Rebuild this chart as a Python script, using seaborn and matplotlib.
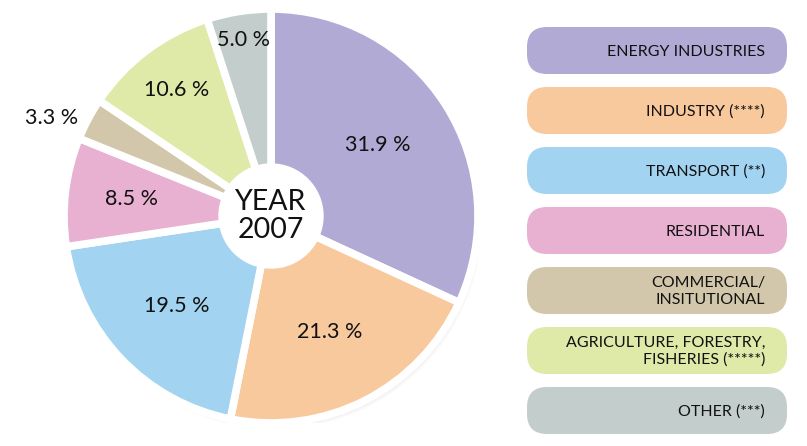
import matplotlib.pyplot as plt
import numpy as np
import seaborn as sns
from matplotlib.patches import Circle, FancyBboxPatch

sns.set_theme(style="white")
plt.rcParams['font.family'] = ['Lato', 'DejaVu Sans']

# Data
categories = ["ENERGY INDUSTRIES", "INDUSTRY (****)", "TRANSPORT (**)",
              "RESIDENTIAL", "COMMERCIAL/\nINSITUTIONAL",
              "AGRICULTURE, FORESTRY,\nFISHERIES (*****)", "OTHER (***)"]
shares = [31.9, 21.3, 19.5, 8.5, 3.3, 10.6, 5.0]
colors = ["#b1aad5", "#f8c99c", "#a2d3f0", "#e8b1d2", "#d2c7ab",
          "#dfe9a8", "#c3cdcc"]
label_radius = [0.62, 0.63, 0.63, 0.68, 1.16, 0.76, 0.86]
label_shift = [1, 0, 0, 0, 4, 0, 0]  # degrees
center_text = "YEAR\n2007"

W, H = 807, 446
fig = plt.figure(figsize=(W / 100, H / 100), dpi=100)
fig.patch.set_facecolor("white")

# Pie axes (pixel layout)
cx, cy, r = 271, 216, 207
ax = fig.add_axes([(cx - r) / W, (H - cy - r) / H, 2 * r / W, 2 * r / H])
# soft shadow
for k, a in [(6, 0.05), (4, 0.07), (2, 0.09)]:
    ax.add_patch(Circle((k / r * 0.6, -k / r), 1.0, color="#888888",
                        alpha=a, lw=0, zorder=0))
wedges, _ = ax.pie(shares, colors=colors, startangle=90, counterclock=False,
                   radius=1.0,
                   wedgeprops={"edgecolor": "white", "linewidth": 5.5})
for w in wedges:
    w.set_zorder(1)
ax.add_patch(Circle((0, 0), 52 / r, color="white", zorder=3))
ax.text(0, 0, center_text, ha="center", va="center", fontsize=20.5,
        linespacing=1.1, color="#111111", zorder=4)

for w, v, lr, sh in zip(wedges, shares, label_radius, label_shift):
    ang = np.deg2rad((w.theta1 + w.theta2) / 2 + sh)
    ax.text(lr * np.cos(ang), lr * np.sin(ang), f"{v:.1f} %",
            ha="center", va="center", fontsize=15.5, color="#111111",
            zorder=4)
ax.set_xlim(-1, 1)
ax.set_ylim(-1, 1)
ax.set_aspect("equal")
ax.axis("off")

# Legend axes in pixel coordinates
lax = fig.add_axes([0, 0, 1, 1])
lax.set_xlim(0, W)
lax.set_ylim(H, 0)
lax.axis("off")
x0, x1, bh = 527, 787, 47
for i, (lab, col) in enumerate(zip(categories, colors)):
    y0 = 27 + i * 60
    lax.add_patch(FancyBboxPatch((x0, y0), x1 - x0, bh,
                                 boxstyle="round,pad=0,rounding_size=20",
                                 fc=col, ec="none"))
    lax.text(765, y0 + bh / 2 + 1, lab, ha="right", va="center",
             fontsize=11.5, color="#111111", linespacing=1.2,
             multialignment="right")

fig.savefig("out.png", dpi=100, facecolor="white")
